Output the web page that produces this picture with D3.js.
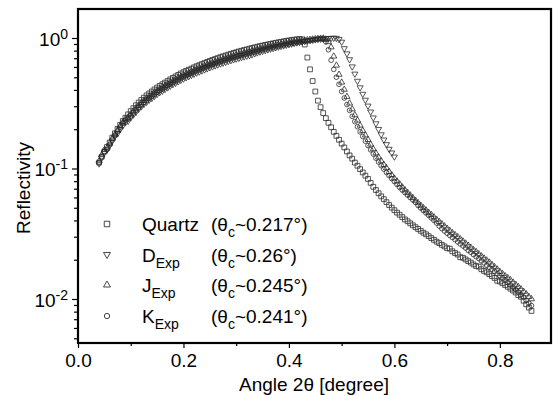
<!DOCTYPE html>
<html>
<head>
<meta charset="utf-8">
<script src="https://cdn.jsdelivr.net/npm/d3@7"></script>
<style>
body { margin: 0; background: #fff; }
text { font-family: "Liberation Sans", Arial, sans-serif; fill: #000; }
</style>
</head>
<body>
<div id="chart"></div>
<script>
// angle 2theta [degree], common sampling for all samples
var angle = [
    0.040, 0.045, 0.050, 0.055, 0.060, 0.065, 0.070, 0.075, 0.080, 0.085,
    0.090, 0.095, 0.100, 0.105, 0.110, 0.115, 0.120, 0.125, 0.130, 0.135,
    0.140, 0.145, 0.150, 0.155, 0.160, 0.165, 0.170, 0.175, 0.180, 0.185,
    0.190, 0.195, 0.200, 0.205, 0.210, 0.215, 0.220, 0.225, 0.230, 0.235,
    0.240, 0.245, 0.250, 0.255, 0.260, 0.265, 0.270, 0.275, 0.280, 0.285,
    0.290, 0.295, 0.300, 0.305, 0.310, 0.315, 0.320, 0.325, 0.330, 0.335,
    0.340, 0.345, 0.350, 0.355, 0.360, 0.365, 0.370, 0.375, 0.380, 0.385,
    0.390, 0.395, 0.400, 0.405, 0.410, 0.415, 0.420, 0.425, 0.430, 0.435,
    0.440, 0.445, 0.450, 0.455, 0.460, 0.465, 0.470, 0.475, 0.480, 0.485,
    0.490, 0.495, 0.500, 0.505, 0.510, 0.515, 0.520, 0.525, 0.530, 0.535,
    0.540, 0.545, 0.550, 0.555, 0.560, 0.565, 0.570, 0.575, 0.580, 0.585,
    0.590, 0.595, 0.600, 0.605, 0.610, 0.615, 0.620, 0.625, 0.630, 0.635,
    0.640, 0.645, 0.650, 0.655, 0.660, 0.665, 0.670, 0.675, 0.680, 0.685,
    0.690, 0.695, 0.700, 0.705, 0.710, 0.715, 0.720, 0.725, 0.730, 0.735,
    0.740, 0.745, 0.750, 0.755, 0.760, 0.765, 0.770, 0.775, 0.780, 0.785,
    0.790, 0.795, 0.800, 0.805, 0.810, 0.815, 0.820, 0.825, 0.830, 0.835,
    0.840, 0.845, 0.850, 0.855, 0.860
];

var quartz = [
    0.111, 0.123, 0.135, 0.146, 0.158, 0.172, 0.186, 0.201, 0.216, 0.231,
    0.245, 0.260, 0.275, 0.290, 0.305, 0.320, 0.335, 0.349, 0.363, 0.376,
    0.389, 0.403, 0.417, 0.430, 0.442, 0.455, 0.468, 0.482, 0.495, 0.508,
    0.521, 0.535, 0.547, 0.560, 0.571, 0.583, 0.596, 0.608, 0.619, 0.631,
    0.643, 0.655, 0.667, 0.679, 0.690, 0.701, 0.713, 0.724, 0.735, 0.746,
    0.757, 0.767, 0.778, 0.789, 0.798, 0.809, 0.818, 0.828, 0.838, 0.847,
    0.857, 0.867, 0.875, 0.885, 0.893, 0.902, 0.910, 0.918, 0.927, 0.935,
    0.942, 0.951, 0.957, 0.964, 0.971, 0.977, 0.982, 0.977, 0.891, 0.708,
    0.575, 0.468, 0.389, 0.331, 0.295, 0.266, 0.243, 0.224, 0.207, 0.191,
    0.178, 0.166, 0.155, 0.145, 0.135, 0.126, 0.119, 0.111, 0.105, 0.0989,
    0.0933, 0.0881, 0.0832, 0.0776, 0.0724, 0.0684, 0.0646, 0.0612, 0.0582, 0.0552,
    0.0525, 0.0501, 0.0479, 0.0459, 0.0442, 0.0424, 0.0407, 0.0394, 0.0380, 0.0367,
    0.0355, 0.0344, 0.0333, 0.0322, 0.0313, 0.0303, 0.0293, 0.0284, 0.0275, 0.0268,
    0.0260, 0.0253, 0.0245, 0.0243, 0.0232, 0.0225, 0.0219, 0.0209, 0.0207, 0.0201,
    0.0195, 0.0190, 0.0184, 0.0179, 0.0177, 0.0169, 0.0164, 0.0160, 0.0155, 0.0150,
    0.0145, 0.0138, 0.0136, 0.0132, 0.0128, 0.0124, 0.0120, 0.0116, 0.0112, 0.0107,
    0.0104, 0.0097, 0.0091, 0.0086, 0.0081
];

var dExp = [
    0.109, 0.121, 0.132, 0.139, 0.150, 0.163, 0.177, 0.185, 0.199, 0.213,
    0.225, 0.231, 0.245, 0.258, 0.271, 0.285, 0.298, 0.311, 0.323, 0.335,
    0.346, 0.359, 0.371, 0.383, 0.393, 0.405, 0.417, 0.429, 0.441, 0.452,
    0.464, 0.476, 0.487, 0.498, 0.508, 0.519, 0.530, 0.541, 0.551, 0.562,
    0.572, 0.583, 0.594, 0.604, 0.614, 0.624, 0.635, 0.644, 0.654, 0.664,
    0.674, 0.683, 0.692, 0.702, 0.710, 0.720, 0.728, 0.737, 0.746, 0.760,
    0.772, 0.784, 0.794, 0.805, 0.815, 0.825, 0.834, 0.845, 0.855, 0.865,
    0.874, 0.884, 0.893, 0.903, 0.912, 0.921, 0.929, 0.937, 0.945, 0.952,
    0.959, 0.966, 0.972, 0.978, 0.983, 0.988, 0.992, 0.995, 0.998, 1.000,
    0.998, 0.977, 0.933, 0.832, 0.759, 0.684, 0.603, 0.531, 0.468, 0.417,
    0.372, 0.335, 0.302, 0.272, 0.245, 0.221, 0.200, 0.182, 0.166, 0.153,
    0.141, 0.132, 0.123
];

var jExp = [
    0.114, 0.127, 0.139, 0.143, 0.155, 0.169, 0.182, 0.197, 0.212, 0.226,
    0.240, 0.247, 0.261, 0.276, 0.290, 0.304, 0.318, 0.332, 0.345, 0.357,
    0.370, 0.383, 0.396, 0.409, 0.420, 0.432, 0.445, 0.458, 0.470, 0.483,
    0.495, 0.508, 0.520, 0.532, 0.542, 0.554, 0.566, 0.578, 0.588, 0.599,
    0.611, 0.622, 0.634, 0.645, 0.656, 0.666, 0.677, 0.688, 0.698, 0.709,
    0.719, 0.729, 0.739, 0.750, 0.758, 0.769, 0.777, 0.787, 0.796, 0.806,
    0.816, 0.826, 0.836, 0.846, 0.855, 0.864, 0.873, 0.881, 0.890, 0.898,
    0.906, 0.914, 0.921, 0.928, 0.935, 0.942, 0.948, 0.954, 0.960, 0.966,
    0.972, 0.977, 0.982, 0.987, 0.991, 0.995, 0.977, 0.933, 0.851, 0.724,
    0.617, 0.525, 0.457, 0.403, 0.355, 0.316, 0.285, 0.257, 0.234, 0.214,
    0.195, 0.180, 0.166, 0.153, 0.141, 0.131, 0.122, 0.114, 0.107, 0.101,
    0.0944, 0.0891, 0.0841, 0.0799, 0.0759, 0.0720, 0.0684, 0.0653, 0.0624, 0.0596,
    0.0569, 0.0545, 0.0521, 0.0500, 0.0479, 0.0459, 0.0442, 0.0424, 0.0407, 0.0391,
    0.0376, 0.0361, 0.0347, 0.0334, 0.0321, 0.0310, 0.0299, 0.0288, 0.0277, 0.0267,
    0.0257, 0.0248, 0.0238, 0.0230, 0.0221, 0.0213, 0.0205, 0.0198, 0.0191, 0.0183,
    0.0176, 0.0169, 0.0162, 0.0156, 0.0150, 0.0145, 0.0140, 0.0134, 0.0129, 0.0124,
    0.0119, 0.0114, 0.0109, 0.0104, 0.0100
];

var kExp = [
    0.111, 0.123, 0.135, 0.140, 0.152, 0.165, 0.179, 0.193, 0.207, 0.222,
    0.235, 0.239, 0.253, 0.267, 0.281, 0.294, 0.308, 0.321, 0.334, 0.346,
    0.358, 0.371, 0.384, 0.396, 0.407, 0.419, 0.431, 0.443, 0.455, 0.467,
    0.479, 0.492, 0.503, 0.515, 0.525, 0.536, 0.548, 0.559, 0.569, 0.581,
    0.592, 0.603, 0.614, 0.625, 0.635, 0.645, 0.656, 0.666, 0.676, 0.686,
    0.696, 0.706, 0.716, 0.726, 0.734, 0.744, 0.753, 0.762, 0.771, 0.781,
    0.791, 0.801, 0.811, 0.821, 0.830, 0.840, 0.849, 0.858, 0.867, 0.876,
    0.884, 0.892, 0.900, 0.908, 0.916, 0.924, 0.931, 0.938, 0.945, 0.952,
    0.959, 0.966, 0.975, 0.983, 0.990, 0.977, 0.933, 0.813, 0.676, 0.575,
    0.501, 0.442, 0.389, 0.347, 0.309, 0.279, 0.251, 0.229, 0.209, 0.191,
    0.176, 0.162, 0.150, 0.139, 0.129, 0.120, 0.112, 0.105, 0.0989, 0.0931,
    0.0881, 0.0837, 0.0794, 0.0754, 0.0716, 0.0683, 0.0653, 0.0625, 0.0599, 0.0574,
    0.0550, 0.0520, 0.0497, 0.0476, 0.0456, 0.0437, 0.0418, 0.0400, 0.0382, 0.0362,
    0.0346, 0.0332, 0.0319, 0.0307, 0.0296, 0.0285, 0.0274, 0.0264, 0.0255, 0.0246,
    0.0236, 0.0228, 0.0219, 0.0211, 0.0204, 0.0196, 0.0189, 0.0181, 0.0175, 0.0169,
    0.0163, 0.0156, 0.0151, 0.0145, 0.0140, 0.0134, 0.0128, 0.0123, 0.0118, 0.0113,
    0.0108, 0.0103, 0.00977, 0.0093, 0.0089
];

var xMajor = [0.0, 0.2, 0.4, 0.6, 0.8];
var xMinor = [0.1, 0.3, 0.5, 0.7];
var yMajor = [0.01, 0.1, 1];
var yExp = ["-2", "-1", "0"];
var yMinor = [0.005, 0.006, 0.007, 0.008, 0.009,
    0.02, 0.03, 0.04, 0.05, 0.06, 0.07, 0.08, 0.09,
    0.2, 0.3, 0.4, 0.5, 0.6, 0.7, 0.8, 0.9];

var legendName = ["Quartz", "D", "J", "K"];
var legendSub = ["", "Exp", "Exp", "Exp"];
var legendTheta = ["0.217", "0.26", "0.245", "0.241"];
var legendSymbol = ["square", "down", "up", "circle"];

var width = 553, height = 396;
var svg = d3.select("#chart").append("svg")
    .attr("width", width)
    .attr("height", height);

var x = d3.scaleLinear().domain([0, 0.897]).range([78, 551]);
var y = d3.scaleLog().domain([0.0046, 1.668]).range([343, 9]);

function symbolPath(kind, size) {
    if (kind == "square") return d3.symbol().type(d3.symbolSquare).size(size)();
    if (kind == "circle") return d3.symbol().type(d3.symbolCircle).size(size * 0.75)();
    return d3.symbol().type(d3.symbolTriangle).size(size * 0.7)();
}

// data markers
var series = [quartz, dExp, jExp, kExp];
var dataG = svg.append("g");
for (let s = 0; s < series.length; s++) {
    let pts = series[s].map(function (v, i) { return {x: angle[i], y: v}; });
    dataG.append("g").selectAll("path")
        .data(pts)
        .enter().append("path")
        .attr("d", symbolPath(legendSymbol[s], 23))
        .attr("transform", function (d) {
            return "translate(" + x(d.x) + "," + y(d.y) + ")" + (legendSymbol[s] == "down" ? " rotate(180)" : "");
        })
        .attr("fill", "none")
        .attr("stroke", "#2b2b2b")
        .attr("stroke-width", 0.8);
}

// axes
var bottomAxis = svg.append("g")
    .attr("transform", "translate(0,343)")
    .call(d3.axisBottom(x).tickValues(xMajor).tickSize(5).tickPadding(6).tickFormat(d3.format(".1f")));
var bottomMinor = svg.append("g")
    .attr("transform", "translate(0,343)")
    .call(d3.axisBottom(x).tickValues(xMinor).tickSize(3).tickFormat(""));
var leftAxis = svg.append("g")
    .attr("transform", "translate(78,0)")
    .call(d3.axisLeft(y).tickValues(yMajor).tickSize(6).tickFormat(""));
var leftMinor = svg.append("g")
    .attr("transform", "translate(78,0)")
    .call(d3.axisLeft(y).tickValues(yMinor).tickSize(4).tickFormat(""));

[bottomAxis, bottomMinor, leftAxis, leftMinor].forEach(function (a) {
    a.select(".domain").remove();
    a.selectAll("line").attr("stroke", "#000").attr("stroke-width", 1.2);
});
bottomAxis.selectAll("text")
    .attr("font-size", 19)
    .attr("font-family", "Liberation Sans, Arial, sans-serif")
    .attr("fill", "#000");

// y tick labels as powers of ten
var yLab = svg.append("g").selectAll("text")
    .data(yMajor)
    .enter().append("text")
    .attr("x", 68)
    .attr("y", function (d) { return y(d) + 8; })
    .attr("text-anchor", "end")
    .attr("font-size", 19);
yLab.append("tspan").text("10");
yLab.append("tspan")
    .attr("dy", -7)
    .attr("font-size", 14)
    .text(function (d, i) { return yExp[i]; });

// frame
svg.append("rect")
    .attr("x", 78).attr("y", 9)
    .attr("width", 473).attr("height", 334)
    .attr("fill", "none")
    .attr("stroke", "#000")
    .attr("stroke-width", 2.2);

// axis titles
svg.append("text")
    .attr("x", 314).attr("y", 391)
    .attr("text-anchor", "middle")
    .attr("font-size", 19)
    .text("Angle 2\u03b8 [degree]");
svg.append("text")
    .attr("transform", "translate(30,188) rotate(-90)")
    .attr("text-anchor", "middle")
    .attr("font-size", 19)
    .text("Reflectivity");

// legend
var legendY = [224, 254.5, 285, 316];
var legend = svg.append("g");
for (let i = 0; i < legendName.length; i++) {
    legend.append("path")
        .attr("d", symbolPath(legendSymbol[i], 30))
        .attr("transform", "translate(107," + legendY[i] + ")" + (legendSymbol[i] == "down" ? " rotate(180)" : ""))
        .attr("fill", "none")
        .attr("stroke", "#333")
        .attr("stroke-width", 0.9);
    let t = legend.append("text")
        .attr("x", 142)
        .attr("y", legendY[i] + 7)
        .attr("font-size", 19);
    t.append("tspan").text(legendName[i]);
    if (legendSub[i] != "") {
        t.append("tspan").attr("dy", 6).attr("font-size", 14).text(legendSub[i]);
    }
    let c = legend.append("text")
        .attr("x", 211)
        .attr("y", legendY[i] + 7)
        .attr("font-size", 19);
    c.append("tspan").text("(\u03b8");
    c.append("tspan").attr("dy", 6).attr("font-size", 14).text("c");
    c.append("tspan").attr("dy", -6).text("~" + legendTheta[i] + "\u00b0)");
}
</script>
</body>
</html>
